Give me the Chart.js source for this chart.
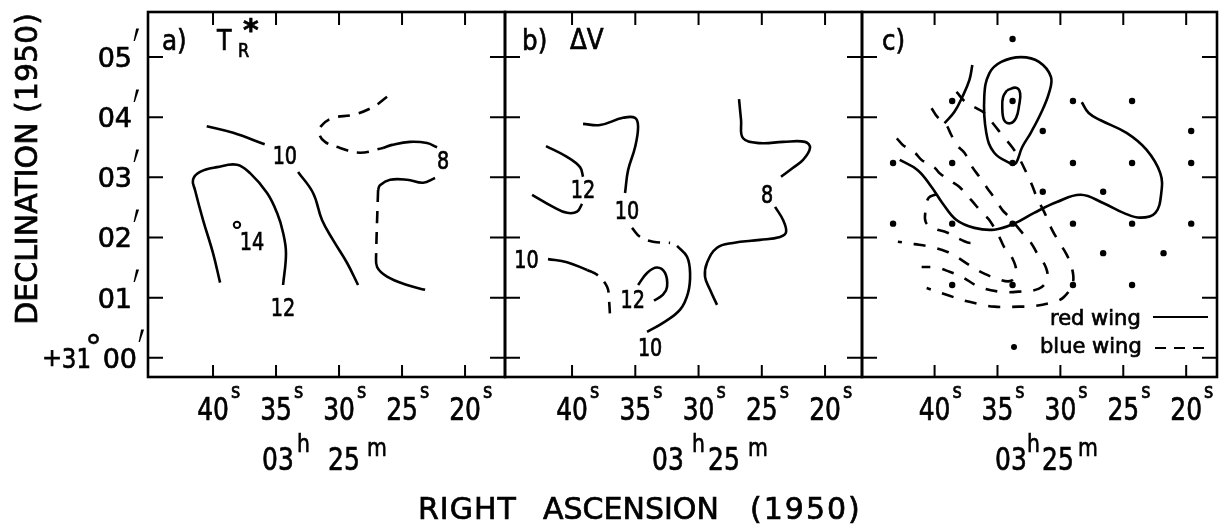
<!DOCTYPE html>
<html>
<head>
<meta charset="utf-8">
<script src="https://cdn.jsdelivr.net/npm/chart.js@4.4.0/dist/chart.umd.min.js"></script>
<style>
html, body { margin: 0; padding: 0; background: #fff; }
#wrap { position: relative; width: 1221px; height: 527px; background: #fff; }
#wrap canvas { position: absolute; left: 0; top: 0; }
</style>
</head>
<body>
<div id="wrap">
<canvas id="panelA" width="1221" height="527"></canvas>
<canvas id="panelB" width="1221" height="527"></canvas>
<canvas id="panelC" width="1221" height="527"></canvas>
</div>
<script>
// axes: RA seconds (past 03h25m), Dec arcmin (past +31 deg)
const raTicks = [40, 35, 30, 25, 20];
const raTickLabels = ['40', '35', '30', '25', '20'];
const decTicks = [0, 1, 2, 3, 4, 5];
const decTickLabels = ['00', '01', '02', '03', '04', '05'];

// a) T_R* contours [ra, dec]
const tr10West = [[40.5,3.85],[38.4,3.74],[35.9,3.55]];
const tr10East = [[33.25,3.09],[32.06,2.74],[31.35,2.29],[30.48,1.96],[29.37,1.58],[28.49,1.21]];
const tr12 = [[39.44,1.25],[40.0,1.74],[40.79,2.29],[41.43,2.79],[41.59,2.96],[41.03,3.09],[39.68,3.17],[38.1,3.21],[37.06,3.07],[35.71,2.74],[34.92,2.41],[34.44,2.08],[34.21,1.74],[34.44,1.21]];
const tr8NorthDash = [[26.19,4.34],[27.3,4.17],[28.89,4.04],[30.48,3.99],[31.35,3.87],[31.59,3.74],[31.11,3.59],[29.92,3.49],[28.33,3.41],[26.51,3.49]];
const tr8North = [[26.51,3.49],[25.79,3.54],[24.37,3.59],[23.02,3.57],[22.22,3.5]];
const tr8South = [[22.38,2.99],[23.33,2.91],[24.6,2.96],[25.95,2.96],[26.75,2.87],[26.9,2.79]];
const tr8SouthDash = [[26.9,2.79],[26.98,2.29],[27.06,1.74]];
const tr8SouthEnd = [[27.06,1.74],[26.98,1.51],[26.19,1.35],[24.6,1.21],[23.17,1.13]];
const trPeak = [[38.1,2.21]];
const trLabels = ['10', '12', '14', '8'];
const trLabelPos = [[34.3,3.32],[34.44,0.8],[36.9,1.9],[21.75,3.24]];

// b) delta V contours
const dv12North = [[42.06,3.52],[40.4,3.34],[39.37,3.17],[39.13,3.01]];
const dv12NorthEnd = [[39.21,2.56],[39.6,2.43],[40.4,2.41],[41.5,2.51],[43.16,2.71]];
const dv10Centre = [[39.13,3.89],[37.79,3.87],[35.97,3.99],[35.02,3.99],[34.78,3.84],[35.02,3.5],[35.57,3.12],[35.81,2.74]];
const dv10CentreDash = [[35.26,2.16],[34.62,2.01],[33.6,1.93],[32.25,1.91]];
const dv10South = [[31.7,1.86],[30.91,1.68],[30.67,1.41],[30.83,1.08],[31.46,0.8],[32.81,0.58],[34.07,0.43]];
const dv10West = [[41.9,1.64],[40.4,1.59],[38.81,1.46]];
const dv10WestDash = [[38.81,1.46],[38.02,1.38],[37.23,1.18],[37.08,0.96],[37.0,0.71]];
const dv12South = [[34.78,1.21],[34.07,1.41],[33.28,1.5],[32.65,1.41],[32.49,1.18],[32.81,1.05],[33.52,0.95]];
const dv8North = [[26.8,4.3],[26.64,3.95],[26.48,3.65],[25.14,3.57],[23.32,3.59],[21.58,3.59],[21.19,3.49],[21.74,3.29],[22.53,3.16],[23.48,3.01]];
const dv8South = [[23.95,2.51],[23.32,2.29],[23.08,2.09],[23.56,2.01],[25.14,1.96],[27.27,1.91],[28.54,1.83],[29.33,1.58],[29.49,1.35],[29.09,1.13],[28.54,0.88]];
const dvLabels = ['12', '10', '10', '10', '12', '8'];
const dvLabelPos = [[39.13,2.76],[35.65,2.41],[33.83,0.13],[43.6,1.6],[35.2,0.93],[24.58,2.68]];

// c) wings: red = solid, blue = dashed, dots = observed positions
const redOuter = [[33.83,3.21],[35.26,3.41],[35.89,3.74],[36.05,4.34],[35.65,4.73],[34.7,4.92],[33.12,5.0],[31.7,4.92],[30.75,4.67],[30.91,4.4],[31.54,4.07],[32.33,3.75],[33.04,3.5],[33.52,3.24],[33.83,3.21]];
const redInner = [[34.23,4.45],[33.52,4.49],[33.2,4.4],[33.28,4.2],[33.52,3.99],[33.99,3.9],[34.47,3.95],[34.62,4.17],[34.55,4.34],[34.23,4.45]];
const redMain = [[42.77,3.29],[41.34,3.12],[40.24,2.84],[39.37,2.57],[38.26,2.29],[36.84,2.16],[35.26,2.13],[33.68,2.23],[32.09,2.41],[30.28,2.59],[28.38,2.71],[26.56,2.57],[24.98,2.41],[23.64,2.33],[22.45,2.41],[21.98,2.74],[22.06,3.07],[23.16,3.46],[24.74,3.74],[26.8,3.95],[27.75,4.07],[28.3,4.25]];
const redArc = [[37.0,4.87],[37.23,4.62],[37.79,4.34],[38.42,4.09],[39.21,3.9]];
const blueCore = [[39.84,2.72],[40.47,2.66],[40.71,2.46],[40.71,2.26],[40.16,2.16],[38.97,2.08],[37.87,1.96],[37.08,1.91],[36.76,1.99]];
const blue1 = [[43.0,3.65],[42.53,3.54],[41.58,3.41],[41.03,3.29],[40.0,3.16],[39.6,3.07],[38.58,2.92],[38.02,2.84],[37.08,2.62],[36.21,2.41],[35.65,2.29],[34.86,2.01],[34.47,1.84],[33.83,1.66],[33.52,1.43],[33.91,1.28],[34.86,1.3],[36.05,1.4],[37.0,1.51],[38.26,1.68],[38.97,1.76],[40.24,1.84],[41.58,1.89],[42.92,1.93]];
const blue2 = [[40.24,4.15],[39.76,4.0],[39.13,3.89],[38.66,3.7],[38.26,3.54],[37.63,3.41],[37.0,3.17],[36.44,3.01],[35.81,2.82],[35.26,2.66],[34.62,2.46],[34.07,2.34],[33.04,2.08],[32.33,1.91],[31.86,1.74],[31.15,1.5],[31.07,1.3],[31.7,1.15],[33.28,1.1],[34.86,1.1],[36.44,1.18],[37.87,1.35],[38.81,1.43],[39.84,1.5],[41.03,1.51]];
const blue3 = [[38.26,4.42],[37.47,4.24],[36.68,4.15],[36.05,4.07],[35.26,3.87],[34.62,3.7],[33.83,3.5],[33.28,3.32],[32.73,3.09],[32.25,2.87],[31.86,2.66],[31.3,2.43],[30.67,2.13],[30.12,1.93],[29.49,1.71],[29.09,1.5],[29.01,1.25],[29.72,1.01],[30.51,0.93],[32.09,0.86],[33.28,0.85],[35.26,0.85],[37.23,0.93],[38.81,1.03],[40.63,1.16]];
const obsRa = [33.8, 38.6, 33.8, 29.0, 24.3, 31.4, 19.6, 43.3, 38.6, 33.8, 29.0, 24.3, 19.6, 31.4, 26.6, 43.3, 38.6, 33.8, 29.0, 24.3, 19.6, 26.6, 21.8, 38.6, 33.8, 29.0, 24.3];
const obsDec = [5.3, 4.27, 4.27, 4.27, 4.27, 3.77, 3.77, 3.24, 3.24, 3.24, 3.24, 3.24, 3.24, 2.76, 2.76, 2.23, 2.23, 2.23, 2.23, 2.23, 2.23, 1.74, 1.74, 1.21, 1.21, 1.21, 1.21];

const FONT = '"DejaVu Sans", sans-serif';

function pts(arr) {
    return arr.map(p => ({x: p[0], y: p[1]}));
}

function contour(arr, dash) {
    return {
        data: pts(arr),
        showLine: true,
        borderColor: '#000',
        borderWidth: 2.6,
        borderDash: dash || [],
        pointRadius: 0,
        tension: 0.4,
        fill: false
    };
}

// text helper; a thin stroke makes it look like the heavy scanned lettering
function txt(ctx, s, x, y, size, o) {
    o = o || {};
    ctx.save();
    ctx.font = (o.bold ? 'bold ' : '') + size + 'px ' + FONT;
    ctx.translate(x, y);
    ctx.scale(o.sx || 1, 1);
    ctx.textAlign = o.align || 'left';
    ctx.textBaseline = o.base || 'alphabetic';
    if (o.spacing && 'letterSpacing' in ctx) ctx.letterSpacing = o.spacing;
    ctx.fillText(s, 0, 0);
    ctx.lineWidth = o.thick === undefined ? 0.7 : o.thick;
    if (ctx.lineWidth > 0) ctx.strokeText(s, 0, 0);
    const w = ctx.measureText(s).width * (o.sx || 1);
    ctx.restore();
    return w;
}

// squeeze a glyph's ink into a given box (used for the arcminute primes)
function fitText(ctx, s, left, top, w, h, size) {
    ctx.save();
    ctx.font = size + 'px ' + FONT;
    ctx.textAlign = 'left';
    ctx.textBaseline = 'alphabetic';
    const m = ctx.measureText(s);
    const iw = m.actualBoundingBoxLeft + m.actualBoundingBoxRight;
    const ih = m.actualBoundingBoxAscent + m.actualBoundingBoxDescent;
    ctx.translate(left, top);
    ctx.scale(w / iw, h / ih);
    ctx.fillText(s, m.actualBoundingBoxLeft, m.actualBoundingBoxAscent);
    ctx.restore();
}

const panelPlugin = {
    id: 'panel',
    afterDatasetsDraw(chart, args, o) {
        const ctx = chart.ctx;
        const a = chart.chartArea;
        const xs = chart.scales.x, ys = chart.scales.y;
        ctx.save();
        ctx.strokeStyle = '#000';
        ctx.fillStyle = '#000';

        ctx.lineWidth = 2.6;
        ctx.strokeRect(a.left, a.top, a.right - a.left, a.bottom - a.top);

        ctx.lineWidth = 2;
        ctx.beginPath();
        raTicks.forEach(v => {
            const px = xs.getPixelForValue(v);
            ctx.moveTo(px, a.top); ctx.lineTo(px, a.top + 13);
            ctx.moveTo(px, a.bottom); ctx.lineTo(px, a.bottom - 12);
        });
        decTicks.forEach(v => {
            const py = ys.getPixelForValue(v);
            ctx.moveTo(a.left, py); ctx.lineTo(a.left + 15, py);
            ctx.moveTo(a.right, py); ctx.lineTo(a.right - 15, py);
        });
        ctx.stroke();

        // RA tick labels with superscript s
        raTicks.forEach((v, i) => {
            const px = xs.getPixelForValue(v);
            const w = txt(ctx, raTickLabels[i], px, a.bottom + 43, 32, {align: 'center', sx: 0.78});
            txt(ctx, 's', px + w / 2 + 2, a.bottom + 21, 21, {sx: 0.85});
        });

        // 03h25m
        const hm = o.hm;
        txt(ctx, '03', a.left + hm[0], a.bottom + 93, 32, {sx: 0.78});
        txt(ctx, 'h', a.left + hm[1], a.bottom + 75, 24, {sx: 0.85});
        txt(ctx, '25', a.left + hm[2], a.bottom + 93, 32, {sx: 0.78});
        txt(ctx, 'm', a.left + hm[3], a.bottom + 79, 24, {sx: 0.85});

        // panel title
        o.title.forEach(t => {
            txt(ctx, t[0], a.left + t[1], t[2], t[3], {sx: t[4], bold: t[5]});
        });

        // contour labels
        if (o.labels) {
            o.labels.forEach((s, i) => {
                const p = o.labelPos[i];
                txt(ctx, s, xs.getPixelForValue(p[0]), ys.getPixelForValue(p[1]), 24,
                    {align: 'center', base: 'middle', sx: 0.8});
            });
        }

        if (o.axisTitles) {
            decTicks.forEach((v, i) => {
                const py = ys.getPixelForValue(v);
                const right = v === 0 ? 137 : 132;
                txt(ctx, decTickLabels[i], right, py + 10, 27, {align: 'right'});
                fitText(ctx, '′', right + 1, py - 29, 7, 14, 30);
                if (v === 0) {
                    txt(ctx, '°', 102, py + 1, 34, {align: 'right', thick: 0.4});
                    txt(ctx, '31', 91, py + 10, 27, {align: 'right', sx: 0.85});
                    txt(ctx, '+', 62, py + 8, 24, {align: 'right'});
                }
            });
            ctx.save();
            ctx.translate(37, 169);
            ctx.rotate(-Math.PI / 2);
            txt(ctx, 'DECLINATION (1950)', 0, 0, 30, {align: 'center'});
            ctx.restore();
            txt(ctx, 'RIGHT', 418, 519, 30, {spacing: '1px'});
            txt(ctx, 'ASCENSION', 543, 519, 30, {});
            txt(ctx, '(1950)', 750, 519, 30, {spacing: '2px'});
        }

        if (o.legend) {
            txt(ctx, 'red wing', 1050, 325, 21, {});
            txt(ctx, 'blue wing', 1040, 353, 21, {});
            ctx.lineWidth = 2;
            ctx.beginPath();
            ctx.moveTo(1153, 317); ctx.lineTo(1208, 317);
            ctx.stroke();
            ctx.setLineDash([11, 8]);
            ctx.beginPath();
            ctx.moveTo(1155, 348); ctx.lineTo(1208, 348);
            ctx.stroke();
            ctx.setLineDash([]);
            ctx.beginPath();
            ctx.arc(1014, 347, 3, 0, Math.PI * 2);
            ctx.fill();
        }
        ctx.restore();
    }
};

function makePanel(id, xMin, xMax, pad, datasets, opts) {
    return new Chart(document.getElementById(id), {
        type: 'scatter',
        data: {datasets: datasets},
        options: {
            animation: false,
            responsive: false,
            events: [],
            layout: {padding: pad},
            scales: {
                x: {type: 'linear', min: xMin, max: xMax, reverse: true, display: false},
                y: {type: 'linear', min: -0.32, max: 5.75, display: false}
            },
            plugins: {
                legend: {display: false},
                tooltip: {enabled: false},
                panel: opts
            }
        },
        plugins: [panelPlugin]
    });
}

const dashA = [12, 9];
const dashC = [12, 12];

makePanel('panelA', 16.83, 45.16, {left: 148, right: 716, top: 12, bottom: 150}, [
    contour(tr10West), contour(tr10East), contour(tr12),
    contour(tr8NorthDash, dashA), contour(tr8North),
    contour(tr8South), contour(tr8SouthDash, dashA), contour(tr8SouthEnd),
    {data: pts(trPeak), pointRadius: 3.2, borderWidth: 2, borderColor: '#000', backgroundColor: '#fff'}
], {
    hm: [114, 149, 180, 219],
    title: [['a)', 14, 50, 29, 0.85], ['T', 69, 50, 28, 0.85], ['R', 90, 57, 19, 0.85], ['*', 95, 40, 30, 1, true]],
    labels: trLabels, labelPos: trLabelPos, axisTitles: true
});

makePanel('panelB', 17.08, 45.3, {left: 505, right: 359, top: 12, bottom: 150}, [
    contour(dv12North), contour(dv12NorthEnd), contour(dv10Centre),
    contour(dv10CentreDash, dashA), contour(dv10South),
    contour(dv10West), contour(dv10WestDash, dashA), contour(dv12South),
    contour(dv8North), contour(dv8South)
], {
    hm: [147, 187, 203, 243],
    title: [['b)', 17, 50, 29, 0.85], ['ΔV', 65, 49, 29, 0.85]],
    labels: dvLabels, labelPos: dvLabelPos
});

makePanel('panelC', 17.55, 45.77, {left: 862, right: 2, top: 12, bottom: 150}, [
    contour(redOuter), contour(redInner), contour(redMain), contour(redArc),
    contour(blueCore, dashC), contour(blue1, dashC), contour(blue2, dashC), contour(blue3, dashC),
    {data: obsRa.map((r, i) => ({x: r, y: obsDec[i]})), pointRadius: 3.2, borderWidth: 0, backgroundColor: '#000'}
], {
    hm: [133, 165, 180, 216],
    title: [['c)', 20, 50, 29, 0.85]],
    legend: true
});
</script>
</body>
</html>
